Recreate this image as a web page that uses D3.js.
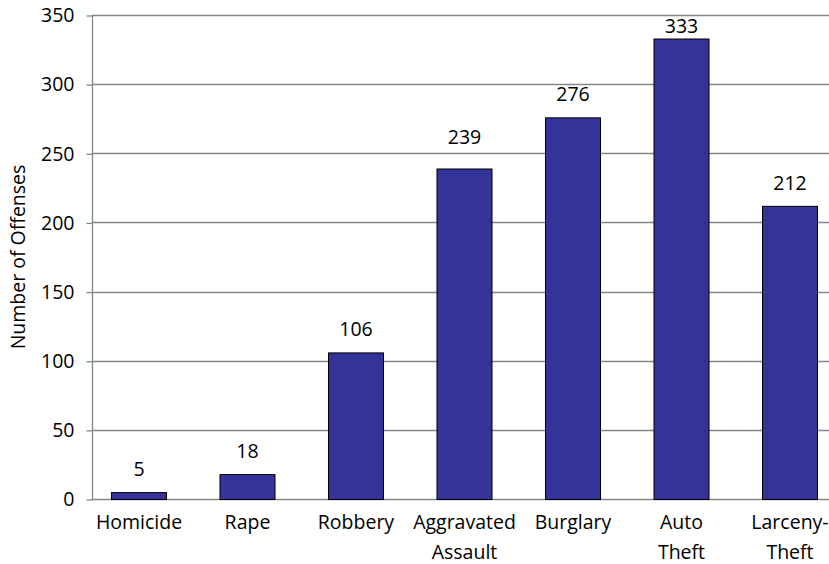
<!DOCTYPE html>
<html>
<head>
<meta charset="utf-8">
<script src="https://cdn.jsdelivr.net/npm/d3@7"></script>
<style>
  html, body { margin: 0; padding: 0; background: #fff; }
  svg { display: block; }
  text { font-family: "Open Sans", "Noto Sans", sans-serif; fill: #000; }
</style>
</head>
<body>
<svg id="chart" width="829" height="564"></svg>
<script>
// ---- data ----
const categories = ["Homicide", "Rape", "Robbery", "Aggravated Assault", "Burglary", "Auto Theft", "Larceny-Theft"];
const categoryLines = [["Homicide"], ["Rape"], ["Robbery"], ["Aggravated", "Assault"], ["Burglary"], ["Auto", "Theft"], ["Larceny-", "Theft"]];
const offenses = [5, 18, 106, 239, 276, 333, 212];
const yTicks = [0, 50, 100, 150, 200, 250, 300, 350];
const yTitle = "Number of Offenses";

// ---- layout ----
const W = 829, H = 564;
const axisX = 92, plotRight = 829;
const yTop = 15, yBottom = 499;
const fontSize = 19.5;

const svg = d3.select("#chart");

const y = d3.scaleLinear().domain([0, 350]).range([yBottom, yTop]);
const x = d3.scaleBand().domain(categories).range([84.25, 843.75])
  .paddingInner(0.493).paddingOuter(0.2465);

// gridlines
svg.append("g").selectAll("line").data(yTicks).join("line")
  .attr("x1", axisX).attr("x2", plotRight)
  .attr("y1", d => Math.round(y(d)) + 0.5).attr("y2", d => Math.round(y(d)) + 0.5)
  .attr("stroke", "#868686").attr("stroke-width", 1.3);

// y axis
const yAxis = d3.axisLeft(y).tickValues(yTicks).tickSize(6).tickPadding(12);
const yg = svg.append("g").attr("transform", `translate(${axisX + 0.5},0.5)`).call(yAxis);
yg.select(".domain").attr("stroke", "#868686").attr("stroke-width", 1.3).attr("d", `M-0,${yTop}V${yBottom}`);
yg.selectAll(".tick line").attr("stroke", "#868686").attr("stroke-width", 1.3);
yg.selectAll(".tick text").style("font-size", fontSize + "px").attr("fill", "#000")
  .attr("font-family", null);

// bars
svg.append("g").selectAll("rect").data(offenses).join("rect")
  .attr("x", (d, i) => x(categories[i]) + 0.5)
  .attr("y", d => y(d) + 0.5)
  .attr("width", x.bandwidth())
  .attr("height", d => yBottom - y(d))
  .attr("fill", "#333399")
  .attr("stroke", "#000").attr("stroke-width", 1);

// value labels
const capH = fontSize * 0.72;
function labelBaseline(v) {
  let b = y(v) - 16;
  if (b - capH < y(350) + 4) return y(350) + 18;
  for (const t of yTicks) {
    const gy = y(t);
    if (gy >= b - capH - 1 && gy <= b + 2) { b = gy - 9; break; }
  }
  return b;
}
svg.append("g").selectAll("text").data(offenses).join("text")
  .attr("x", (d, i) => x(categories[i]) + x.bandwidth() / 2 + 0.5)
  .attr("y", d => labelBaseline(d))
  .attr("text-anchor", "middle")
  .style("font-size", fontSize + "px")
  .text(d => d);

// x labels
const xl = svg.append("g").selectAll("text").data(categoryLines).join("text")
  .attr("x", (d, i) => x(categories[i]) + x.bandwidth() / 2 + 0.5)
  .attr("y", 529)
  .attr("text-anchor", "middle")
  .style("font-size", fontSize + "px");
xl.selectAll("tspan").data(d => d).join("tspan")
  .attr("x", function () { return d3.select(this.parentNode).attr("x"); })
  .attr("dy", (d, i) => i === 0 ? 0 : 29.5)
  .text(d => d);

// y title
svg.append("text")
  .attr("transform", `translate(25,${(yTop + yBottom) / 2}) rotate(-90)`)
  .attr("text-anchor", "middle")
  .style("font-size", fontSize + "px")
  .text(yTitle);
</script>
</body>
</html>
